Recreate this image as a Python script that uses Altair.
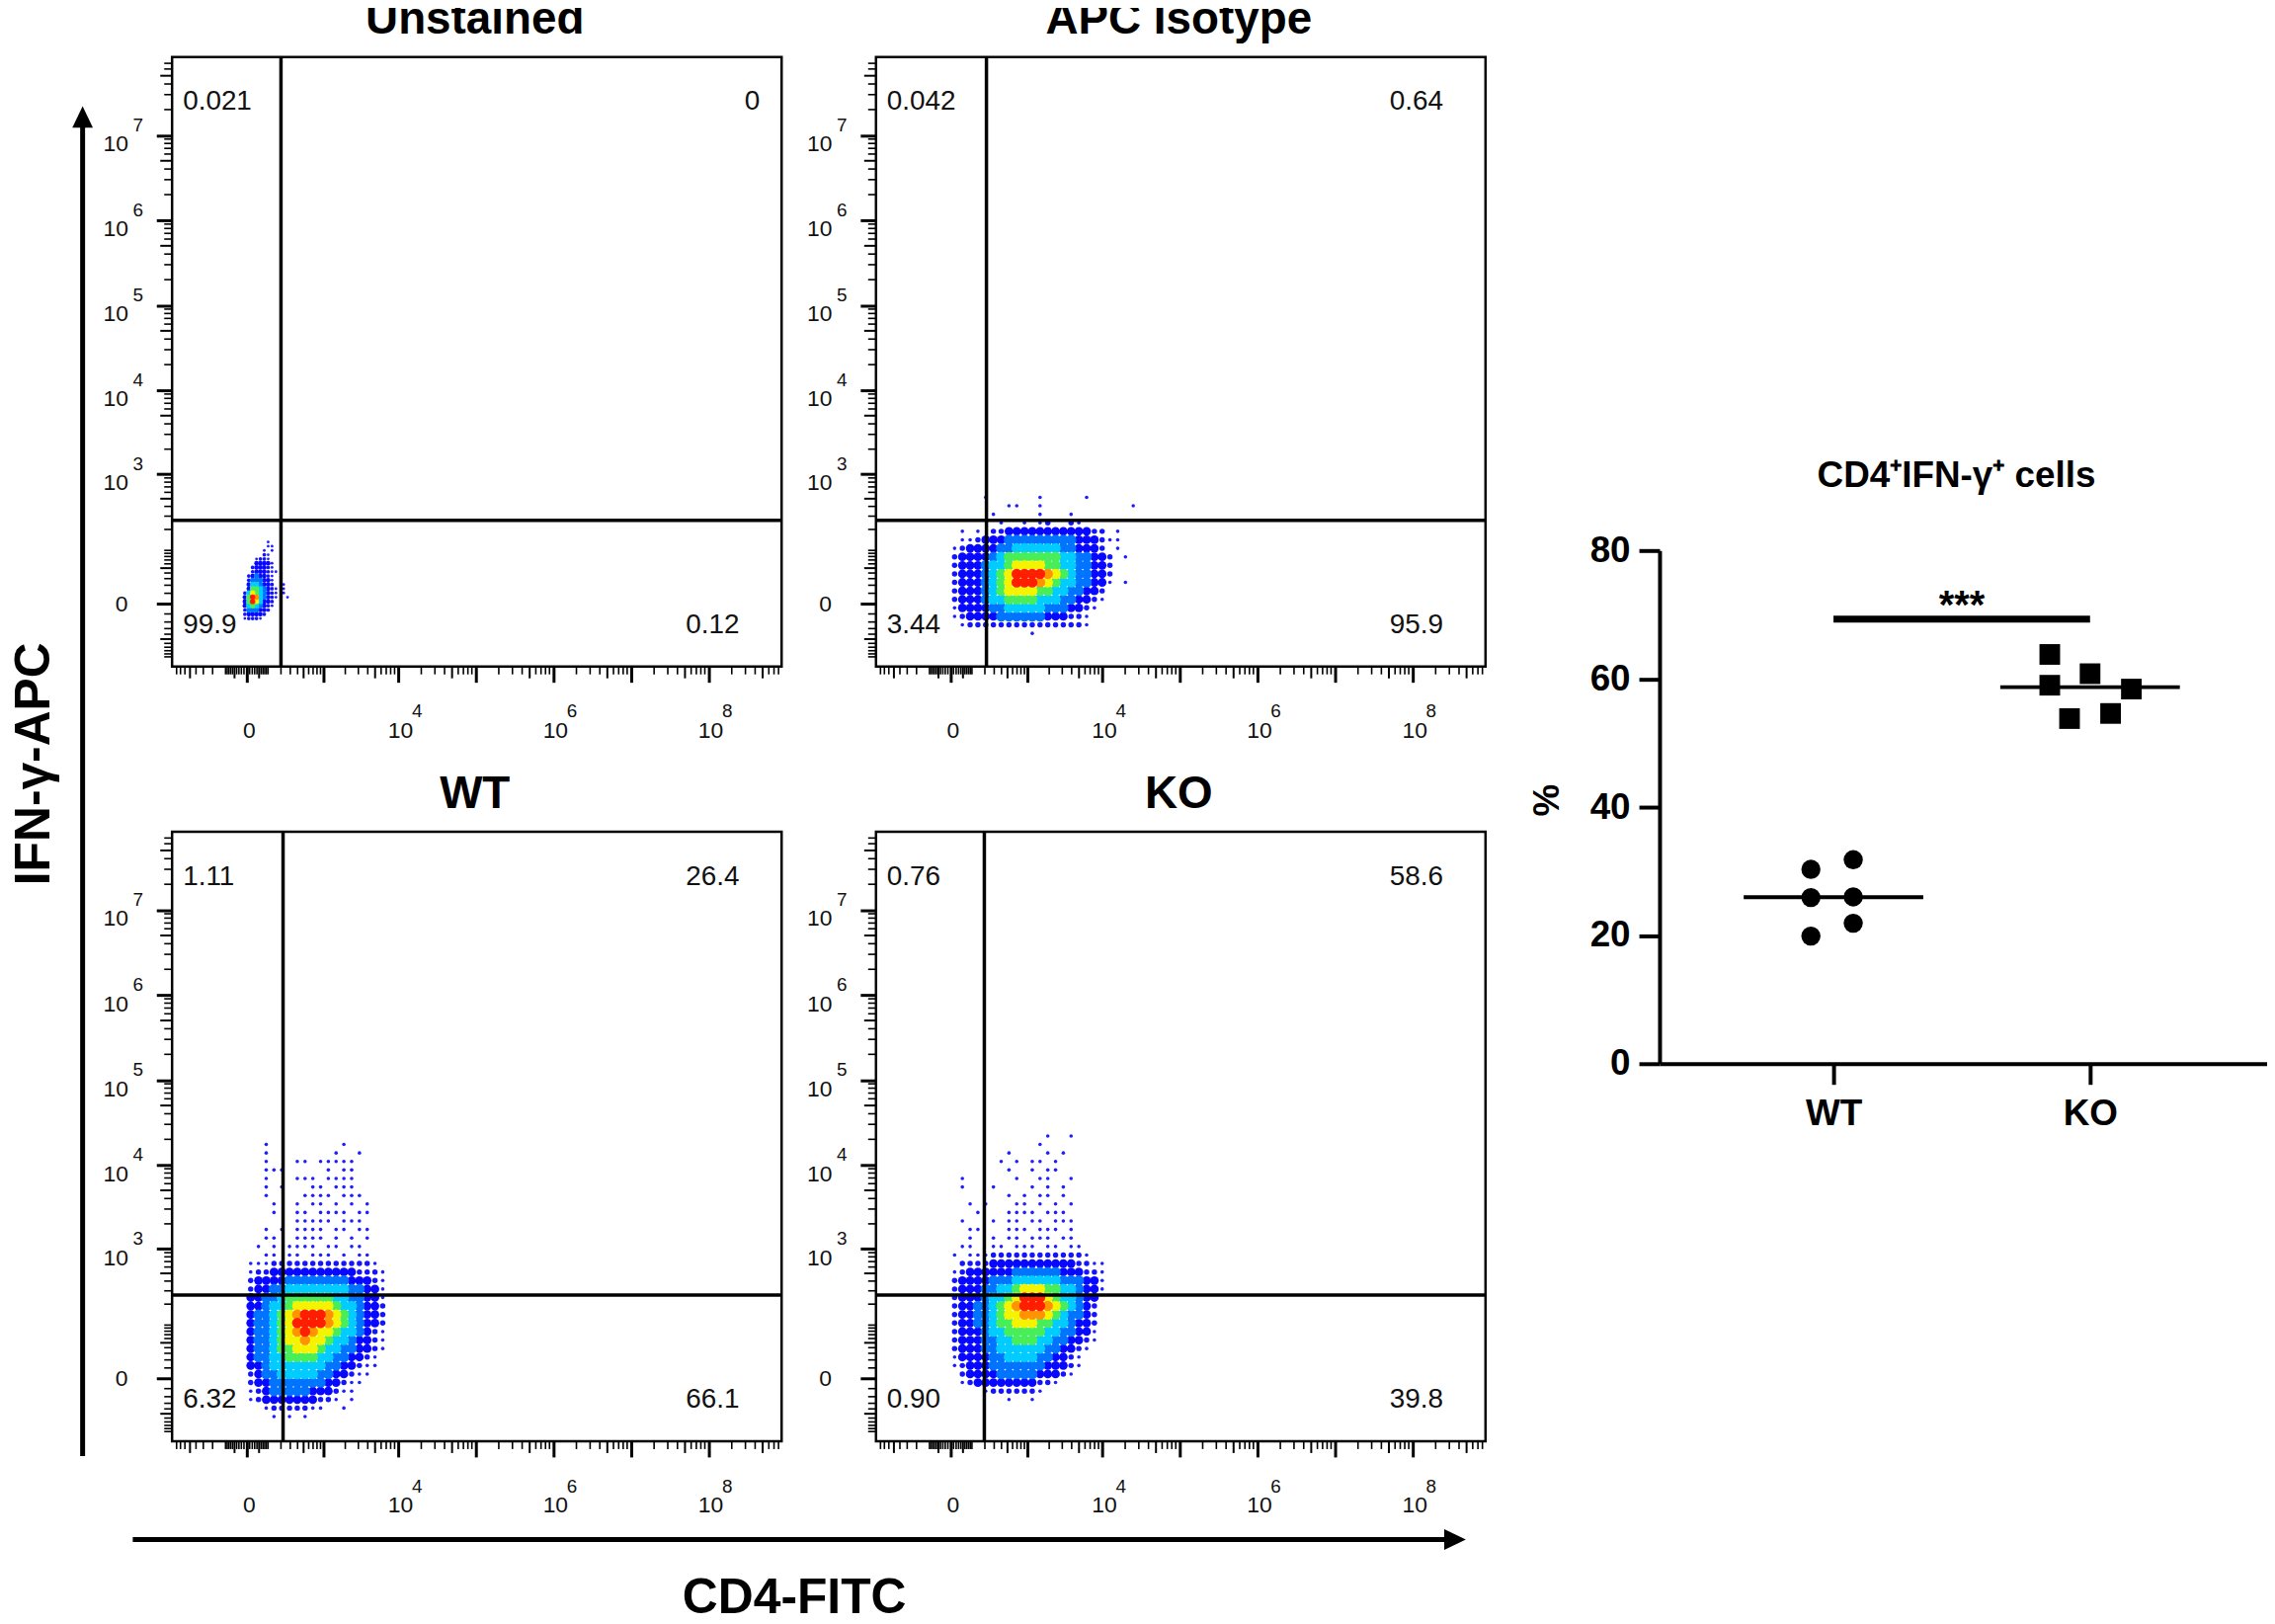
import math
import altair as alt
import pandas as pd

FONT = "Liberation Sans"

# ---------------- flow cytometry panels ----------------
PANELS = ["Unstained", "APC Isotype", "WT", "KO"]
QUAD_UL = ["0.021", "0.042", "1.11", "0.76"]
QUAD_UR = ["0", "0.64", "26.4", "58.6"]
QUAD_LL = ["99.9", "3.44", "6.32", "0.90"]
QUAD_LR = ["0.12", "95.9", "66.1", "39.8"]
GATE_CD4 = [200, 215, 220, 195]
GATE_IFNG = [264, 264, 264, 264]

X_TICK_VALUES = [0, 1e3, 1e4, 1e5, 1e6, 1e7, 1e8]
X_TICK_LABELS = ["0", "", "10^4", "", "10^6", "", "10^8"]
Y_TICK_VALUES = [0, 1e3, 1e4, 1e5, 1e6, 1e7]
Y_TICK_LABELS = ["0", "10^3", "10^4", "10^5", "10^6", "10^7"]

# density maps ('.' empty, 1-2 sparse, 3 blue ... 9 red)
UNSTAINED_MAP = [
    "......1.....",
    "......11....",
    ".....1.1....",
    ".....21.....",
    "...1221.....",
    "...33331....",
    "..233321....",
    "..2333211...",
    ".2343321....",
    ".2444331....",
    ".3554332..1.",
    ".36654321.1.",
    "257654321.1.",
    "369854321..1",
    "36975332....",
    "35654321....",
    "2444332.....",
    "233332......",
    "12221.......",
]
APC_MAP = [
    "........................",
    "........................",
    "....1......1.....1......",
    ".......11..1...........1",
    ".....1.....1...1........",
    "......1..1.12..21.......",
    ".1.1.223333333333322.1..",
    ".112333444444444333211..",
    "12333344555555443332.1..",
    "233334566666665544332.1.",
    "233345567777665544332...",
    "233345679999876544332...",
    "233345679998765544331.1.",
    "23334567777665544332....",
    "23334556666555443321....",
    "1333344555554443321.....",
    "123333444444333221......",
    ".12222222222222221......",
    "..........1.............",
]
WT_MAP = [
    "...1.........1.....",
    "...1........1..1...",
    "...1...11.11111....",
    "...111.....1.11....",
    "...1...111.1111....",
    "...1.1...11.111....",
    "...1....1111.111...",
    "....1..1.11.1.1.1..",
    "....1..11.1111.11..",
    ".......11111.111...",
    "...1.1.1111.11.11..",
    "...11..1111.1.1.1..",
    "..1.1.1111.11.11...",
    "...11.11.111.1.11..",
    ".11122222222222221.",
    ".122333333333332221",
    ".233334444444433321",
    ".233445555555544331",
    ".334456666665544331",
    ".334556777776554332",
    ".344567899987654332",
    ".344567999987654332",
    ".344567898776554321",
    ".344567787765543321",
    ".344566777655443321",
    ".34455666655443321.",
    ".33455555554433211.",
    ".2344555554433211..",
    ".233444444433211...",
    ".12344444333211....",
    ".123333333221.1....",
    "...12222211..1.....",
    "....1.1.1..........",
]
KO_MAP = [
    "............1..1.....",
    "...........1.........",
    ".......1....1.1......",
    "......1.1.11.1.......",
    ".......1..1.11.......",
    ".1......1..11..1.....",
    ".1...1....1.1.1......",
    ".......1.1.11.1......",
    "..1.1...11.1.1.1.....",
    "...1...1111.111......",
    ".1...1.11.11.111.....",
    "..11...111.111.1.....",
    "..1..1.11.111.11.....",
    ".11..11.111.11.11....",
    "1.1112222222222221...",
    ".2222333333333332211.",
    "12333333444444333221.",
    "23333444555555444331.",
    "23334455677766554331.",
    "2333455679997655433..",
    "2334456789998765432..",
    "2334456778887654432..",
    "2334456677766554332..",
    "2333455666665544331..",
    "2333445566655443321..",
    "233344555555443321...",
    "13333445555443321....",
    "12333444444433321....",
    ".233334444433321.....",
    ".1233333333221.......",
    "....12222221.........",
    ".......1..1..........",
]
MAPS = [UNSTAINED_MAP, APC_MAP, WT_MAP, KO_MAP]
# grid placement in display decades: left edge, top edge, cell size
MAP_GRID = [(-0.05, 0.75, 0.05), (0.0, 1.5, 0.1), (-0.1, 2.8, 0.1), (0.0, 2.9, 0.1)]

LEVEL_COLORS = {1: "#1e1eff", 2: "#1414ff", 3: "#0808ff", 4: "#0074ff",
                5: "#00ccff", 6: "#48ee5a", 7: "#f4f400", 8: "#ff9400", 9: "#ff1e00"}

# ---------------- summary dot plot ----------------
GROUPS = ["WT", "KO"]
PCT_WT = [30.3, 31.8, 25.9, 26.0, 21.9, 19.9]
PCT_KO = [63.8, 59.0, 60.8, 58.4, 53.8, 54.6]
SPREAD_WT = [-0.088, 0.077, -0.088, 0.077, 0.077, -0.088]
SPREAD_KO = [-0.157, -0.157, 0.0, 0.161, -0.080, 0.080]

# ---------------- helpers ----------------
CX, CY = 114.0, 31.0
XDOM = [-0.962, 6.886]
YDOM = [-0.740, 6.428]
PW = PH = 620


def tx(v):
    return math.copysign(math.log10(1 + abs(v) / CX), v)


def ty(v):
    return math.copysign(math.log10(1 + abs(v) / CY), v)


def label_expr(pos, labels):
    parts = [f"abs(datum.value - {p:.6f}) < 0.0005 ? '{l}'" for p, l in zip(pos, labels)]
    return " : ".join(parts) + " : ''"


def split_labels(values, labels, tf):
    base, expo = [], []
    for v, l in zip(values, labels):
        if "^" in l:
            b, e = l.split("^")
            base.append(b)
            expo.append({"p": tf(v), "e": e})
        else:
            base.append(l)
    return base, pd.DataFrame(expo)


def minor_ticks(tf, dom, kmax, majors):
    vals = []
    for k in range(1, kmax + 1):
        for m in range(1, 10):
            vals.append(m * 10 ** k)
    for k in range(1, 3):
        for m in range(1, 10):
            vals.append(-m * 10 ** k)
    small, medium = [], []
    for v in vals:
        if v in majors:
            continue
        p = tf(v)
        if not (dom[0] + 0.02 < p < dom[1] - 0.02):
            continue
        m = abs(v) / 10 ** int(math.floor(math.log10(abs(v)) + 1e-9))
        (medium if round(m) == 5 else small).append(p)
    return small, medium


X_SMALL, X_MED = minor_ticks(tx, XDOM, 8, X_TICK_VALUES)
Y_SMALL, Y_MED = minor_ticks(ty, YDOM, 7, Y_TICK_VALUES)
X_BASE, X_EXPO = split_labels(X_TICK_VALUES, X_TICK_LABELS, tx)
Y_BASE, Y_EXPO = split_labels(Y_TICK_VALUES, Y_TICK_LABELS, ty)
Y_BASE_AXIS = [b if b != "0" else "" for b in Y_BASE]   # the y "0" is drawn centred on its tick

one = pd.DataFrame({"k": [0]})


def cloud_frame(rows, grid):
    x0, y0, cell = grid
    small = cell < 0.08
    sizes = {1: 8, 2: 14, 3: 22} if small else {1: 13, 2: 30, 3: 78}
    dense = 30 if small else 112
    recs = []
    for j, line in enumerate(rows):
        for i, ch in enumerate(line):
            if ch not in "123456789":
                continue
            lvl = int(ch)
            recs.append({"cx": x0 + cell * (i + 0.5), "cy": y0 - cell * (j + 0.5),
                         "lvl": lvl, "col": LEVEL_COLORS[lvl], "sz": sizes.get(lvl, dense)})
    return pd.DataFrame(recs)


def vtext(t, x, y, align, size=28, weight="normal", baseline="alphabetic"):
    return alt.Chart(one).mark_text(font=FONT, fontSize=size, fontWeight=weight, color="#111111",
                                    align=align, baseline=baseline).encode(
        x=alt.value(x), y=alt.value(y), text=alt.value(t))


XS = alt.Scale(domain=XDOM, nice=False, zero=False)
YS = alt.Scale(domain=YDOM, nice=False, zero=False)
XAXIS = alt.Axis(values=[tx(v) for v in X_TICK_VALUES],
                 labelExpr=label_expr([tx(v) for v in X_TICK_VALUES], X_BASE),
                 tickSize=16, tickWidth=3, tickColor="black", domain=False, grid=False,
                 labelFont=FONT, labelFontSize=23, labelColor="#111111", labelPadding=56,
                 labelBaseline="alphabetic", labelOffset=2, labelFlush=False, labelOverlap=False,
                 title=None)
YAXIS = alt.Axis(values=[ty(v) for v in Y_TICK_VALUES],
                 labelExpr=label_expr([ty(v) for v in Y_TICK_VALUES], Y_BASE_AXIS),
                 tickSize=16, tickWidth=3, tickColor="black", domain=False, grid=False,
                 labelFont=FONT, labelFontSize=23, labelColor="#111111", labelAlign="right",
                 labelPadding=29, labelBaseline="alphabetic", labelOffset=16,
                 labelFlush=False, labelOverlap=False, title=None)


def X(f):
    return alt.X(f, scale=XS, axis=XAXIS)


def Y(f):
    return alt.Y(f, scale=YS, axis=YAXIS)


def flow_panel(idx, extra=()):
    cdf = cloud_frame(MAPS[idx], MAP_GRID[idx])
    cloud = alt.Chart(cdf).mark_circle(opacity=1, strokeWidth=0).encode(
        x=X("cx:Q"), y=Y("cy:Q"),
        color=alt.Color("col:N", scale=None),
        size=alt.Size("sz:Q", scale=None),
        order=alt.Order("lvl:Q"),
    )
    gv = alt.Chart(pd.DataFrame({"g": [tx(GATE_CD4[idx])]})).mark_rule(
        color="black", strokeWidth=3.5).encode(x=X("g:Q"))
    gh = alt.Chart(pd.DataFrame({"g": [ty(GATE_IFNG[idx])]})).mark_rule(
        color="black", strokeWidth=3.5).encode(y=Y("g:Q"))
    xt1 = alt.Chart(pd.DataFrame({"p": X_SMALL})).mark_rule(color="black", strokeWidth=1.6).encode(
        x=X("p:Q"), y=alt.value(PH), y2=alt.value(PH + 8))
    xt2 = alt.Chart(pd.DataFrame({"p": X_MED})).mark_rule(color="black", strokeWidth=2).encode(
        x=X("p:Q"), y=alt.value(PH), y2=alt.value(PH + 12))
    yt1 = alt.Chart(pd.DataFrame({"p": Y_SMALL})).mark_rule(color="black", strokeWidth=1.6).encode(
        y=Y("p:Q"), x=alt.value(0), x2=alt.value(-8))
    yt2 = alt.Chart(pd.DataFrame({"p": Y_MED})).mark_rule(color="black", strokeWidth=2).encode(
        y=Y("p:Q"), x=alt.value(0), x2=alt.value(-12))
    xexp = alt.Chart(X_EXPO).mark_text(font=FONT, fontSize=19, color="#111111", align="left",
                                       baseline="alphabetic", dx=14).encode(
        x=X("p:Q"), y=alt.value(PH + 52), text="e:N")
    yexp = alt.Chart(Y_EXPO).mark_text(font=FONT, fontSize=19, color="#111111", align="left",
                                       baseline="alphabetic", dy=-4).encode(
        y=Y("p:Q"), x=alt.value(-40), text="e:N")
    yzero = alt.Chart(pd.DataFrame({"p": [ty(0)], "t": [Y_BASE[0]]})).mark_text(
        font=FONT, fontSize=23, color="#111111", align="right", baseline="middle", dy=1).encode(
        y=Y("p:Q"), x=alt.value(-45), text="t:N")
    ur_x = 598 if QUAD_UR[idx] == "0" else 577
    texts = [vtext(QUAD_UL[idx], 11, 54, "left"), vtext(QUAD_UR[idx], ur_x, 54, "right"),
             vtext(QUAD_LL[idx], 11, 586, "left"), vtext(QUAD_LR[idx], 577, 586, "right")]
    title = alt.Chart(one).mark_text(font=FONT, fontSize=46, fontWeight="bold", color="black",
                                     align="center", baseline="alphabetic").encode(
        x=alt.value(308), y=alt.value(-24), text=alt.value(PANELS[idx]))
    return alt.layer(cloud, gv, gh, xt1, xt2, yt1, yt2, xexp, yexp, yzero, *texts, title,
                     *extra).properties(
        width=PW, height=PH,
        view=alt.ViewBackground(stroke="black", strokeWidth=2.5),
    )


# big axis arrows and labels (drawn relative to the top-left panel)
arrow_layers = [
    alt.Chart(one).mark_rule(color="black", strokeWidth=5).encode(
        x=alt.value(-91), y=alt.value(64), y2=alt.value(1423)),
    alt.Chart(one).mark_point(shape="M0,-1L0.95,1L-0.95,1Z", filled=True, size=484,
                              color="black", opacity=1).encode(x=alt.value(-91), y=alt.value(61)),
    alt.Chart(one).mark_rule(color="black", strokeWidth=5).encode(
        x=alt.value(-40), x2=alt.value(1302), y=alt.value(1508)),
    alt.Chart(one).mark_point(shape="M1,0L-1,-0.95L-1,0.95Z", filled=True, size=484,
                              color="black", opacity=1).encode(x=alt.value(1305), y=alt.value(1508)),
    alt.Chart(one).mark_text(font=FONT, fontSize=50, fontWeight="bold", angle=270, align="center",
                             baseline="middle", color="black").encode(
        x=alt.value(-140), y=alt.value(719), text=alt.value("IFN-γ-APC")),
    alt.Chart(one).mark_text(font=FONT, fontSize=50, fontWeight="bold", align="center",
                             baseline="alphabetic", color="black").encode(
        x=alt.value(633), y=alt.value(1583), text=alt.value("CD4-FITC")),
]

tl = flow_panel(0, arrow_layers)
tr = flow_panel(1)
bl = flow_panel(2)
br = flow_panel(3)

# ---------------- dot plot ----------------
dot_rows = []
for gi, (vals, spread) in enumerate([(PCT_WT, SPREAD_WT), (PCT_KO, SPREAD_KO)]):
    for v, s in zip(vals, spread):
        dot_rows.append({"grp": GROUPS[gi], "gi": gi + 1, "pos": gi + 1 + s, "pct": v})
dot_df = pd.DataFrame(dot_rows)

DW, DH = 699, 620          # cell size in the grid
DX0 = 81                   # y axis sits this far right of the cell edge
DY0, DY1 = 1024, 502       # pixel rows of 0 % and 80 %
XSD = alt.Scale(domain=[0.322, 2.69], range=[DX0, DW], nice=False, zero=False)
YSD = alt.Scale(domain=[0, 80], range=[DY0, DY1], nice=False, zero=True)
XAXD = alt.Axis(values=[1, 2], labelExpr=label_expr([1, 2], GROUPS), tickSize=21, tickWidth=4,
                tickColor="black", domainWidth=4, domainColor="black", grid=False,
                labelFont=FONT, labelFontSize=37, labelFontWeight="bold", labelColor="black",
                labelPadding=41, labelBaseline="alphabetic", offset=DY0 - DH, title=None)
YAXD = alt.Axis(values=[0, 20, 40, 60, 80], tickSize=21, tickWidth=4, tickColor="black",
                domainWidth=4, domainColor="black", grid=False, labelFont=FONT,
                labelFontSize=37, labelFontWeight="bold", labelColor="black", labelPadding=9,
                offset=-DX0, title=None)


def XD(f):
    return alt.X(f, scale=XSD, axis=XAXD)


def YD(f):
    return alt.Y(f, scale=YSD, axis=YAXD)


base = alt.Chart(dot_df)
wt_pts = base.transform_filter(alt.datum.gi == 1).mark_circle(size=380, color="black", opacity=1).encode(
    x=XD("pos:Q"), y=YD("pct:Q"))
ko_pts = base.transform_filter(alt.datum.gi == 2).mark_square(size=441, color="black", opacity=1).encode(
    x=XD("pos:Q"), y=YD("pct:Q"))
medians = base.transform_aggregate(m="median(pct)", groupby=["gi"]).transform_calculate(
    a="datum.gi - 0.35", b="datum.gi + 0.35").mark_rule(color="black", strokeWidth=4).encode(
    x=XD("a:Q"), x2="b:Q", y=YD("m:Q"))
sig = alt.Chart(pd.DataFrame({"a": [1], "b": [2], "y": [69.3]})).mark_rule(
    color="black", strokeWidth=7).encode(x=XD("a:Q"), x2="b:Q", y=YD("y:Q"))
stars = alt.Chart(pd.DataFrame({"x": [1.5], "y": [69.3], "t": ["***"]})).mark_text(
    font=FONT, fontSize=40, fontWeight="bold", baseline="alphabetic", dy=-1, color="black").encode(
    x=XD("x:Q"), y=YD("y:Q"), text="t:N")
pct_label = alt.Chart(one).mark_text(font=FONT, fontSize=37, fontWeight="bold", angle=270,
                                     align="center", baseline="middle", color="black").encode(
    x=alt.value(-32), y=alt.value(756), text=alt.value("%"))
dot_title = alt.Chart(one).mark_text(font=FONT, fontSize=37, fontWeight="bold", align="center",
                                     baseline="alphabetic", color="black").encode(
    x=alt.value(383), y=alt.value(437), text=alt.value("CD4⁺IFN-γ⁺ cells"))

dot = alt.layer(medians, wt_pts, ko_pts, sig, stars, pct_label, dot_title).properties(
    width=DW, height=DH)

chart = alt.concat(tl, tr, dot, bl, br, columns=3,
                   spacing=alt.RowColnumber(row=168, column=96), bounds="flush").properties(
    padding={"left": 0, "top": -17, "right": 0, "bottom": 0},
    background="white",
).configure_view(strokeWidth=0)

chart.save("out.html", embed_options={"renderer": "svg", "actions": False})
